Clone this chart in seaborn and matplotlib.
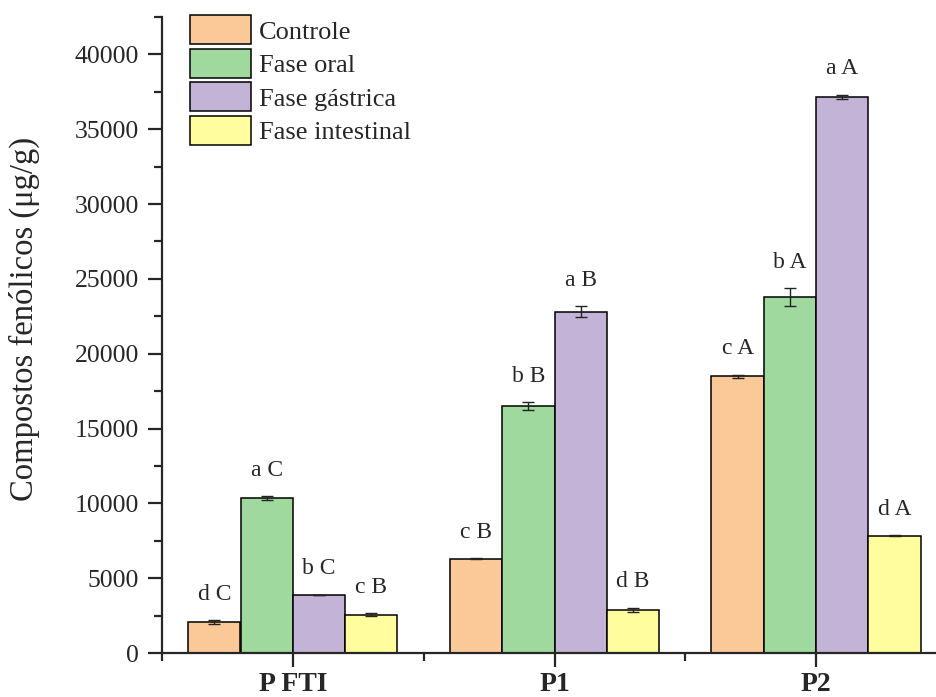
import numpy as np
import pandas as pd
import matplotlib
matplotlib.use("Agg")
import matplotlib.pyplot as plt
import seaborn as sns
from matplotlib.ticker import MultipleLocator, FixedLocator

# dados
amostras = ["P FTI", "P1", "P2"]
fases = ["Controle", "Fase oral", "Fase gástrica", "Fase intestinal"]
controle = [2070, 6310, 18500]
fase_oral = [10350, 16480, 23780]
fase_gastrica = [3880, 22800, 37180]
fase_intestinal = [2570, 2900, 7850]
erro_controle = [110, 20, 100]
erro_oral = [150, 270, 610]
erro_gastrica = [20, 380, 140]
erro_intestinal = [80, 130, 40]
letras_controle = ["d C", "c B", "c A"]
letras_oral = ["a C", "b B", "b A"]
letras_gastrica = ["b C", "a B", "a A"]
letras_intestinal = ["c B", "d B", "d A"]

cores = ["#FBC998", "#9FD99E", "#C3B3D7", "#FFFD9E"]

valores = [controle, fase_oral, fase_gastrica, fase_intestinal]
erros = [erro_controle, erro_oral, erro_gastrica, erro_intestinal]
letras = [letras_controle, letras_oral, letras_gastrica, letras_intestinal]

df = pd.DataFrame({
    "amostra": np.tile(amostras, len(fases)),
    "fase": np.repeat(fases, len(amostras)),
    "valor": np.concatenate(valores),
})

sns.set_style("ticks")
plt.rcParams["font.family"] = ["Liberation Serif", "DejaVu Serif"]
plt.rcParams["axes.linewidth"] = 1.6

fig = plt.figure(figsize=(9.36, 6.97), dpi=100)
ax = fig.add_axes([162 / 936, 44 / 697, 785 / 936, 636 / 697])

sns.barplot(data=df, x="amostra", y="valor", hue="fase", order=amostras,
            hue_order=fases, palette=cores, edgecolor="black", linewidth=1.1,
            width=0.8, errorbar=None, saturation=1, ax=ax)

# barras de erro e letras
for cont, err, let in zip(ax.containers, erros, letras):
    for barra, e, t in zip(cont, err, let):
        xc = barra.get_x() + barra.get_width() / 2
        h = barra.get_height()
        ax.errorbar(xc, h, yerr=e, fmt="none", ecolor="#222222",
                    elinewidth=1.0, capsize=4, capthick=1.0)
        ax.annotate(t, (xc, h + e), xytext=(0, 11), textcoords="offset points",
                    ha="center", va="bottom", fontsize=17)

ax.set_xlim(-0.5, 2.5)
ax.set_ylim(0, 42500)
ax.yaxis.set_major_locator(MultipleLocator(5000))
ax.yaxis.set_minor_locator(MultipleLocator(2500))
ax.xaxis.set_minor_locator(FixedLocator([-0.5, 0.5, 1.5]))
ax.tick_params(axis="both", which="major", length=10, width=1.6,
               direction="out", labelsize=18.5)
ax.tick_params(axis="y", which="major", pad=6.5)
ax.tick_params(axis="both", which="minor", length=6, width=1.6, direction="out")
for lab in ax.get_xticklabels():
    lab.set_fontweight("bold")
    lab.set_fontsize(20)

ax.set_xlabel("")
ax.set_ylabel("Compostos fenólicos (μg/g)", fontsize=23.5)
ax.yaxis.set_label_coords(-0.155, 0.526)
sns.despine(ax=ax)

handles, labels = ax.get_legend_handles_labels()
ax.legend(handles, labels, loc="upper left", bbox_to_anchor=(172 / 936, 1 + 3 / 697),
          bbox_transform=fig.transFigure, frameon=False, fontsize=19,
          handlelength=2.3, handleheight=1.3, labelspacing=0.18,
          handletextpad=0.3, borderpad=0.2)

fig.savefig("out.png", dpi=100)
